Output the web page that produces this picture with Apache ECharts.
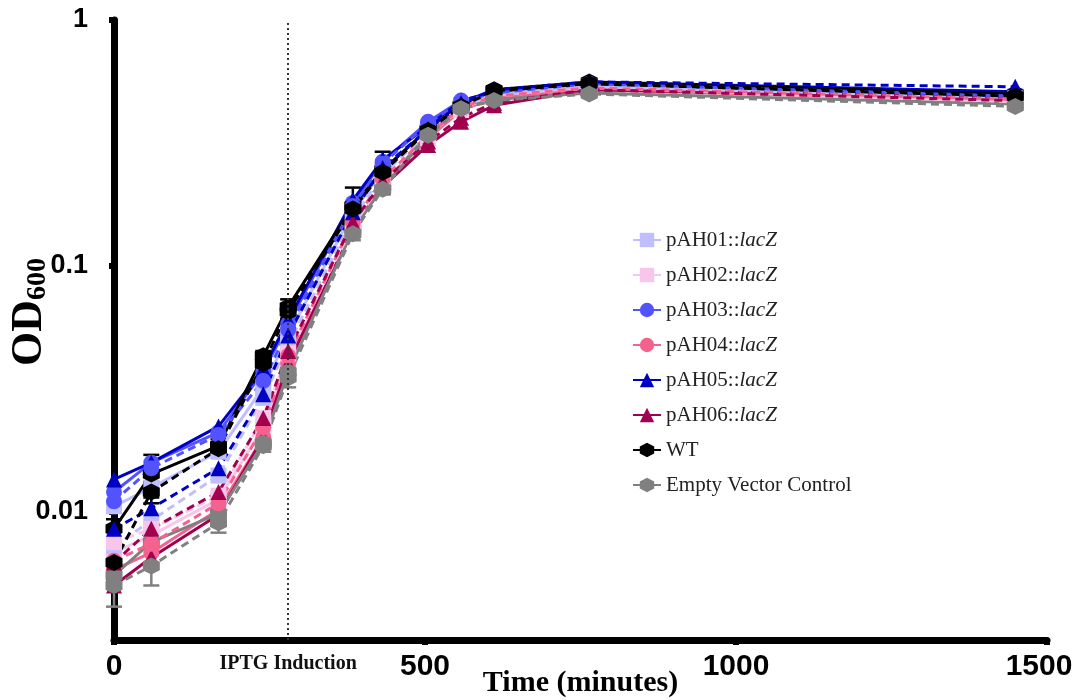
<!DOCTYPE html>
<html>
<head>
<meta charset="utf-8">
<script src="https://cdn.jsdelivr.net/npm/echarts@6/dist/echarts.min.js"></script>
<style>
  html, body { margin: 0; padding: 0; background: #ffffff; }
  #chart { width: 1076px; height: 700px; }
</style>
</head>
<body>
<div id="chart"></div>
<script>
// Sampling times (minutes) shared by every growth curve
const timePoints = [0, 60, 168, 240, 280, 384, 432, 505, 558, 611, 764, 1449];
const iptgTime = 280;
const xTicks = [0, 500, 1000, 1500];

const strainNames = ['pAH01::lacZ', 'pAH02::lacZ', 'pAH03::lacZ', 'pAH04::lacZ',
                     'pAH05::lacZ', 'pAH06::lacZ', 'WT', 'Empty Vector Control'];

// OD600 readings: two replicate cultures per strain (solid / dashed curve)
const pAH01Solid  = [0.0105, 0.0125, 0.0175, 0.032, 0.052, 0.165, 0.245, 0.36, 0.45, 0.50, 0.54, 0.49];
const pAH01Dashed = [0.0072, 0.0092, 0.0140, 0.029, 0.048, 0.155, 0.235, 0.35, 0.445, 0.495, 0.535, 0.48];
const pAH02Solid  = [0.0068, 0.0080, 0.0112, 0.022, 0.042, 0.140, 0.215, 0.33, 0.43, 0.485, 0.525, 0.47];
const pAH02Dashed = [0.0075, 0.0085, 0.0116, 0.024, 0.044, 0.145, 0.220, 0.34, 0.435, 0.49, 0.53, 0.465];
const pAH03Solid  = [0.0120, 0.0158, 0.0210, 0.037, 0.058, 0.180, 0.265, 0.385, 0.47, 0.51, 0.555, 0.50];
const pAH03Dashed = [0.0110, 0.0150, 0.0205, 0.034, 0.055, 0.175, 0.260, 0.38, 0.465, 0.505, 0.55, 0.49];
const pAH04Solid  = [0.0058, 0.0068, 0.0102, 0.020, 0.040, 0.140, 0.215, 0.33, 0.43, 0.48, 0.52, 0.47];
const pAH04Dashed = [0.0063, 0.0074, 0.0108, 0.022, 0.043, 0.150, 0.225, 0.34, 0.44, 0.49, 0.53, 0.475];
const pAH05Solid  = [0.0135, 0.0158, 0.0222, 0.038, 0.060, 0.185, 0.270, 0.37, 0.47, 0.51, 0.56, 0.51];
const pAH05Dashed = [0.0085, 0.0103, 0.0150, 0.030, 0.052, 0.165, 0.250, 0.36, 0.46, 0.52, 0.56, 0.535];
const pAH06Solid  = [0.0050, 0.0065, 0.0097, 0.020, 0.040, 0.140, 0.210, 0.31, 0.385, 0.45, 0.52, 0.485];
const pAH06Dashed = [0.0062, 0.0085, 0.0120, 0.024, 0.045, 0.150, 0.220, 0.32, 0.40, 0.46, 0.52, 0.47];
const wtSolid     = [0.0085, 0.0142, 0.0185, 0.043, 0.068, 0.175, 0.245, 0.36, 0.45, 0.52, 0.56, 0.50];
const wtDashed    = [0.0062, 0.0120, 0.0180, 0.040, 0.065, 0.170, 0.240, 0.355, 0.445, 0.515, 0.55, 0.49];
const evcSolid    = [0.0055, 0.0075, 0.0098, 0.019, 0.037, 0.140, 0.210, 0.345, 0.44, 0.475, 0.505, 0.455];
const evcDashed   = [0.0050, 0.0060, 0.0090, 0.0185, 0.035, 0.135, 0.205, 0.34, 0.435, 0.47, 0.50, 0.445];

// Standard deviations shown as error bars
const wtSolidErr  = [0.0008, 0.0028, 0.0012, 0.002, 0.005, 0.033, 0.046, 0.02, 0.015, 0.015, 0.015, 0.015];
const wtDashedErr = [0.0009, 0.0012, 0.0010, 0.002, 0.004, 0.010, 0.012, 0.015, 0.012, 0.012, 0.012, 0.012];
const evcDashedErr = [0.0009, 0.0010, 0.0008, 0.001, 0.003, 0.008, 0.010, 0.012, 0.012, 0.012, 0.012, 0.012];

const strainColors = ['#BFBFFF', '#F8C6EA', '#5252FF', '#F5628F', '#0000C4', '#A1004F', '#000000', '#808080'];
const hexagon = 'path://M10,0 L18.66,5 L18.66,15 L10,20 L1.34,15 L1.34,5 Z';
const strainSymbols = ['rect', 'rect', 'circle', 'circle', 'triangle', 'triangle', hexagon, hexagon];

const solidSets  = [pAH01Solid, pAH02Solid, pAH03Solid, pAH04Solid, pAH05Solid, pAH06Solid, wtSolid, evcSolid];
const dashedSets = [pAH01Dashed, pAH02Dashed, pAH03Dashed, pAH04Dashed, pAH05Dashed, pAH06Dashed, wtDashed, evcDashed];

function pairs(values) {
  return timePoints.map((t, i) => [t, values[i]]);
}

function curve(idx, values, dashed) {
  return {
    type: 'line',
    name: strainNames[idx],
    data: pairs(values),
    symbol: strainSymbols[idx],
    symbolSize: idx >= 6 ? 17 : 16,
    showAllSymbol: true,
    lineStyle: { color: strainColors[idx], width: 3, type: dashed ? [8, 5] : 'solid' },
    itemStyle: { color: strainColors[idx] },
    emphasis: { disabled: true },
    silent: true
  };
}

function errorBars(values, errs, color) {
  return {
    type: 'custom',
    data: timePoints.map((t, i) => [t, values[i] - errs[i], values[i] + errs[i]]),
    encode: { x: 0, y: [1, 2] },
    silent: true,
    z: 3,
    renderItem: function (params, api) {
      const lo = api.coord([api.value(0), api.value(1)]);
      const hi = api.coord([api.value(0), api.value(2)]);
      const w = 8;
      const st = { stroke: color, lineWidth: 2.5 };
      return {
        type: 'group',
        children: [
          { type: 'line', shape: { x1: lo[0], y1: lo[1], x2: hi[0], y2: hi[1] }, style: st },
          { type: 'line', shape: { x1: lo[0] - w, y1: lo[1], x2: lo[0] + w, y2: lo[1] }, style: st },
          { type: 'line', shape: { x1: hi[0] - w, y1: hi[1], x2: hi[0] + w, y2: hi[1] }, style: st }
        ]
      };
    }
  };
}

const series = [];
for (let i = 0; i < strainNames.length; i++) {
  series.push(curve(i, solidSets[i], false));
}
for (let i = 0; i < strainNames.length; i++) {
  series.push(curve(i, dashedSets[i], true));
}
series.push(errorBars(wtSolid, wtSolidErr, '#000000'));
series.push(errorBars(wtDashed, wtDashedErr, '#000000'));
series.push(errorBars(evcDashed, evcDashedErr, '#808080'));

// IPTG induction marker
series[series.length - 4].markLine = {
  silent: true,
  symbol: ['none', 'none'],
  lineStyle: { color: '#333333', width: 2, type: [2, 3] },
  label: {
    show: true,
    position: 'start',
    distance: 14,
    formatter: 'IPTG Induction',
    color: '#111111',
    fontFamily: 'Liberation Serif',
    fontWeight: 'bold',
    fontSize: 20
  },
  data: [{ xAxis: iptgTime }]
};

const tickFont = { fontFamily: 'Liberation Sans', fontWeight: 'bold', fontSize: 30, color: '#000' };

const chart = echarts.init(document.getElementById('chart'), null, { renderer: 'canvas' });

chart.setOption({
  animation: false,
  backgroundColor: '#ffffff',
  grid: { left: 114, right: 29, top: 20, bottom: 60, outerBoundsMode: 'none', containLabel: false },
  xAxis: {
    type: 'value',
    min: xTicks[0],
    max: xTicks[xTicks.length - 1],
    interval: xTicks[1] - xTicks[0],
    name: 'Time (minutes)',
    nameLocation: 'middle',
    nameGap: 28,
    nameMoveOverlap: false,
    nameTextStyle: { fontFamily: 'Liberation Serif', fontWeight: 'bold', fontSize: 30, color: '#000' },
    splitLine: { show: false },
    axisLine: { lineStyle: { color: '#000', width: 7 } },
    axisTick: { length: 5, lineStyle: { color: '#000', width: 6 } },
    axisLabel: Object.assign({}, tickFont, {
      margin: 12,
      formatter: function (v) {
        return v === xTicks[xTicks.length - 1] ? '{edge|' + v + '}' : String(v);
      },
      rich: { edge: Object.assign({}, tickFont, { padding: [0, 16, 0, 0] }) }
    })
  },
  yAxis: {
    type: 'log',
    logBase: 10,
    min: 0.003,
    max: 1,
    splitLine: { show: false },
    axisLine: { lineStyle: { color: '#000', width: 7 } },
    axisTick: { length: 5, lineStyle: { color: '#000', width: 6 } },
    minorTick: { show: false },
    axisLabel: {
      fontFamily: 'Liberation Sans', fontWeight: 'bold', fontSize: 27, color: '#000', margin: 26,
      showMinLabel: false
    }
  },
  legend: {
    orient: 'vertical',
    left: 627,
    top: 224,
    itemWidth: 28,
    itemHeight: 18,
    itemGap: 13,
    data: strainNames,
    formatter: function (name) {
      const k = name.indexOf('::');
      if (k < 0) return name;
      return name.slice(0, k + 2) + '{it|' + name.slice(k + 2) + '}';
    },
    textStyle: {
      fontFamily: 'Liberation Serif', fontSize: 21, color: '#222', lineHeight: 22,
      rich: { it: { fontFamily: 'Liberation Serif', fontStyle: 'italic', fontSize: 21, color: '#222', lineHeight: 22 } }
    }
  },
  graphic: [{
    type: 'text',
    x: 30,
    y: 312,
    rotation: Math.PI / 2,
    style: {
      text: '{a|OD}{b|600}',
      align: 'center',
      verticalAlign: 'middle',
      rich: {
        a: { fontFamily: 'Liberation Serif', fontWeight: 'bold', fontSize: 44, fill: '#000' },
        b: { fontFamily: 'Liberation Serif', fontWeight: 'bold', fontSize: 28, fill: '#000', verticalAlign: 'bottom' }
      }
    }
  }],
  series: series
});
</script>
</body>
</html>
